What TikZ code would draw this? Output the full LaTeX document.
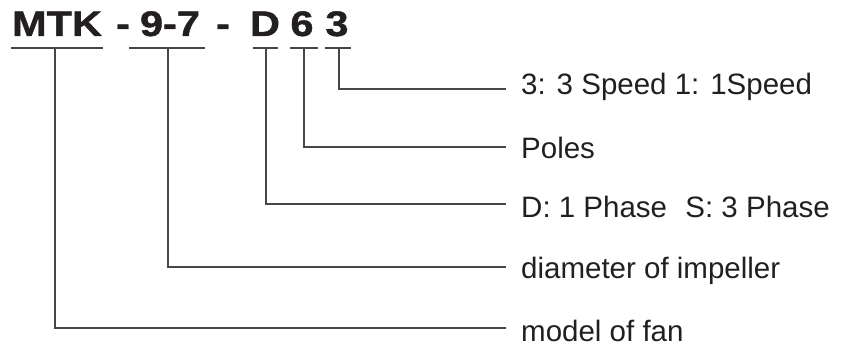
\documentclass[tikz,border=0pt]{standalone}
\usepackage{fontspec}
\setmainfont{Liberation Sans}
\newfontfamily\titlefont[FakeStretch=1.17,FakeBold=1.2]{Liberation Sans Bold}
\definecolor{ink}{HTML}{231F20}
\definecolor{rule}{HTML}{4A4646}
\begin{document}
\begin{tikzpicture}[x=1pt,y=-1pt,
  ttl/.style={inner sep=0pt, anchor=base, text=ink, font=\titlefont\fontsize{35.5}{40}\selectfont},
  desc/.style={inner sep=0pt, anchor=base west, text=ink, font=\fontsize{29.5}{36}\selectfont},
  lead/.style={draw=rule, line width=1.1pt}]
\useasboundingbox (0,0) rectangle (844,345);
% title pieces
\node[ttl] (mtk) at (57,36) {MTK};
\node[ttl] (h1) at (123,36) {-};
\node[ttl] (n97) at (170,36) {9-7};
\node[ttl] (h2) at (223,36) {-};
\node[ttl] (d) at (265,36) {D};
\node[ttl] (six) at (302,36) {6};
\node[ttl] (three) at (337,36) {3};
% underline ends
\coordinate (u1a) at (11,48);  \coordinate (u1b) at (103,48);
\coordinate (u2a) at (129,48); \coordinate (u2b) at (205,48);
\coordinate (u3a) at (253,48); \coordinate (u3b) at (278,48);
\coordinate (u4a) at (290,48); \coordinate (u4b) at (318,48);
\coordinate (u5a) at (325,48); \coordinate (u5b) at (351,48);
\draw[lead] (u1a) -- (u1b);
\draw[lead] (u2a) -- (u2b);
\draw[lead] (u3a) -- (u3b);
\draw[lead] (u4a) -- (u4b);
\draw[lead] (u5a) -- (u5b);
% drop points
\coordinate (p1) at (55,48);
\coordinate (p2) at (168,48);
\coordinate (p3) at (266,48);
\coordinate (p4) at (304,48);
\coordinate (p5) at (339,48);
% line ends
\coordinate (e5) at (506,89);
\coordinate (e4) at (506,147);
\coordinate (e3) at (506,204);
\coordinate (e2) at (506,267);
\coordinate (e1) at (506,328);
\draw[lead] (p5) |- (e5);
\draw[lead] (p4) |- (e4);
\draw[lead] (p3) |- (e3);
\draw[lead] (p2) |- (e2);
\draw[lead] (p1) |- (e1);
% descriptions
\node[desc] (t5) at (521,95) {3: 3 Speed 1: 1Speed};
\node[desc] (t4) at (521,158) {Poles};
\node[desc] (t3) at (521,217) {D: 1 Phase\hspace{0.62em}S: 3 Phase};
\node[desc] (t2) at (521,278) {diameter of impeller};
\node[desc] (t1) at (521,341) {model of fan};
\end{tikzpicture}
\end{document}
